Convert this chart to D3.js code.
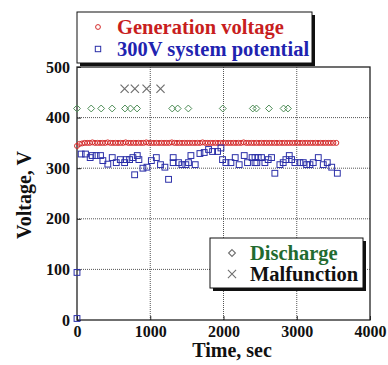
<!DOCTYPE html>
<html>
<head>
<meta charset="utf-8">
<script src="https://cdn.jsdelivr.net/npm/d3@7"></script>
<style>
  body { margin: 0; background: #fff; }
  text { font-family: "Liberation Serif", "Times New Roman", serif; font-weight: bold; }
</style>
</head>
<body>
<div id="chart"></div>
<script>
// generation voltage (red circles)
const genTime = [0, 35, 70, 105, 140, 175, 210, 245, 280, 315, 350, 385, 420, 455, 490, 525, 560, 595, 630, 665,
  700, 735, 770, 805, 840, 875, 910, 945, 980, 1015, 1050, 1085, 1120, 1155, 1190, 1225, 1260, 1295, 1330, 1365,
  1400, 1435, 1470, 1505, 1540, 1575, 1610, 1645, 1680, 1715, 1750, 1785, 1820, 1855, 1890, 1925, 1960, 1995, 2030, 2065,
  2100, 2135, 2170, 2205, 2240, 2275, 2310, 2345, 2380, 2415, 2450, 2485, 2520, 2555, 2590, 2625, 2660, 2695, 2730, 2765,
  2800, 2835, 2870, 2905, 2940, 2975, 3010, 3045, 3080, 3115, 3150, 3185, 3220, 3255, 3290, 3325, 3360, 3395, 3430, 3465,
  3500, 3540];
const genVolt = [344, 348, 349, 350, 350, 350, 351, 350, 350, 350, 350, 350, 351, 350, 350, 350, 350, 350, 350, 351,
  350, 350, 350, 350, 350, 350, 350, 351, 350, 350, 350, 350, 350, 350, 350, 350, 350, 351, 350, 350,
  350, 350, 350, 350, 350, 350, 350, 350, 350, 351, 350, 350, 350, 350, 350, 350, 350, 350, 350, 350,
  350, 350, 350, 350, 350, 351, 350, 350, 350, 350, 350, 350, 350, 350, 350, 350, 350, 350, 350, 350,
  350, 350, 350, 350, 350, 350, 350, 350, 350, 350, 350, 350, 350, 350, 350, 350, 350, 350, 350, 350,
  350, 350];

// 300V system potential (blue squares)
const sysTime = [0, 0, 57, 116, 180, 208, 262, 321, 353, 421, 481, 536, 591, 650, 673, 718, 763, 787, 823, 845,
  900, 955, 1015, 1083, 1140, 1200, 1250, 1313, 1313, 1386, 1432, 1486, 1522, 1555, 1614, 1678, 1737, 1796, 1851, 1919,
  1965, 1987, 2033, 2101, 2160, 2214, 2283, 2328, 2390, 2430, 2430, 2455, 2474, 2519, 2565, 2610, 2656, 2701, 2770, 2815,
  2852, 2898, 2930, 2975, 3043, 3089, 3135, 3180, 3225, 3294, 3362, 3417, 3477, 3554];
const sysVolt = [94, 3, 328, 328, 321, 325, 325, 325, 315, 308, 321, 311, 317, 311, 317, 317, 321, 287, 325, 317,
  300, 302, 315, 321, 307, 302, 278, 321, 311, 311, 307, 307, 311, 325, 307, 329, 331, 337, 333, 333,
  340, 317, 311, 311, 321, 307, 325, 311, 321, 321, 311, 311, 321, 321, 311, 317, 321, 290, 307, 311,
  317, 325, 317, 311, 311, 311, 307, 307, 311, 321, 307, 311, 302, 290];

// discharge events (green diamonds)
const dischargeTime = [0, 194, 330, 480, 655, 730, 820, 1300, 1375, 1520, 1990, 2400, 2450, 2620, 2820, 2880];
const dischargeVolt = [418, 418, 418, 418, 418, 418, 418, 418, 418, 418, 418, 418, 418, 418, 418, 418];

// malfunction events (grey crosses)
const malTime = [650, 790, 950, 1140];
const malVolt = [457, 457, 457, 457];

const xTicks = [0, 1000, 2000, 3000, 4000];
const yTicks = [0, 100, 200, 300, 400, 500];

const W = 388, H = 365;
const margin = {top: 67, right: 18, bottom: 45, left: 77};
const iw = W - margin.left - margin.right, ih = H - margin.top - margin.bottom;

const svg = d3.select('#chart').append('svg')
  .attr('width', W).attr('height', H);

const g = svg.append('g').attr('transform', `translate(${margin.left},${margin.top})`);

const x = d3.scaleLinear().domain([0, 4000]).range([0, iw]);
const y = d3.scaleLinear().domain([0, 500]).range([ih, 0]);

// grid
g.append('g').selectAll('line').data(xTicks.slice(1, -1)).enter().append('line')
  .attr('x1', d => x(d)).attr('x2', d => x(d)).attr('y1', 0).attr('y2', ih)
  .attr('stroke', '#555').attr('stroke-width', 1).attr('stroke-dasharray', '1,1');
g.append('g').selectAll('line').data(yTicks.slice(1, -1)).enter().append('line')
  .attr('y1', d => y(d)).attr('y2', d => y(d)).attr('x1', 0).attr('x2', iw)
  .attr('stroke', '#555').attr('stroke-width', 1).attr('stroke-dasharray', '1,1');

// axes
const xAxis = g.append('g').attr('transform', `translate(0,${ih})`)
  .call(d3.axisBottom(x).tickValues(xTicks).tickSize(-4).tickPadding(6).tickFormat(d3.format('d')));
const yAxis = g.append('g')
  .call(d3.axisLeft(y).tickValues(yTicks).tickSize(-4).tickPadding(7));
[xAxis, yAxis].forEach(a => {
  a.select('.domain').remove();
  a.selectAll('line').attr('stroke', '#222');
  a.selectAll('text').attr('fill', '#111').style('font-size', '16px')
    .style('font-family', '"Liberation Serif", serif').style('font-weight', 'bold');
});

g.append('rect').attr('width', iw).attr('height', ih)
  .attr('fill', 'none').attr('stroke', '#222').attr('stroke-width', 1.3);

// data marks
const red = '#d42a2a', blue = '#2b2fa8', green = '#4c8c55', grey = '#6f6f6f';

g.append('g').selectAll('circle').data(genTime).enter().append('circle')
  .attr('cx', (d, i) => x(d)).attr('cy', (d, i) => y(genVolt[i]))
  .attr('r', 2.5).attr('fill', 'none').attr('stroke', red).attr('stroke-width', 1);

g.append('g').selectAll('rect').data(sysTime).enter().append('rect')
  .attr('x', (d, i) => x(d) - 2.9).attr('y', (d, i) => y(sysVolt[i]) - 2.9)
  .attr('width', 5.8).attr('height', 5.8)
  .attr('fill', 'none').attr('stroke', blue).attr('stroke-width', 1);

const diamond = d3.symbol().type(d3.symbolDiamond2).size(30);
g.append('g').selectAll('path').data(dischargeTime).enter().append('path')
  .attr('transform', (d, i) => `translate(${x(d)},${y(dischargeVolt[i])})`)
  .attr('d', diamond).attr('fill', 'none').attr('stroke', green).attr('stroke-width', 1);

const cross = d3.symbol().type(d3.symbolTimes).size(45);
g.append('g').selectAll('path').data(malTime).enter().append('path')
  .attr('transform', (d, i) => `translate(${x(d)},${y(malVolt[i])})`)
  .attr('d', cross).attr('fill', 'none').attr('stroke', grey).attr('stroke-width', 1.2);

// axis titles
svg.append('text').attr('x', 232).attr('y', 357).attr('text-anchor', 'middle')
  .style('font-size', '20px').attr('fill', '#111').text('Time, sec');
svg.append('text').attr('transform', 'translate(31,195) rotate(-90)').attr('text-anchor', 'middle')
  .style('font-size', '20px').attr('fill', '#111').text('Voltage, V');

// legends
function legend(x0, y0, w, h, items) {
  const lg = svg.append('g').attr('transform', `translate(${x0},${y0})`);
  lg.append('rect').attr('x', 3).attr('y', 3).attr('width', w).attr('height', h).attr('fill', '#111');
  lg.append('rect').attr('width', w).attr('height', h).attr('fill', '#fff')
    .attr('stroke', '#111').attr('stroke-width', 1);
  items.forEach(it => {
    const cy = it.y;
    if (it.shape === 'circle') {
      lg.append('circle').attr('cx', it.mx).attr('cy', cy).attr('r', 2.4)
        .attr('fill', 'none').attr('stroke', it.mc);
    } else if (it.shape === 'square') {
      lg.append('rect').attr('x', it.mx - 2.7).attr('y', cy - 2.7).attr('width', 5.4).attr('height', 5.4)
        .attr('fill', 'none').attr('stroke', it.mc);
    } else {
      lg.append('path').attr('transform', `translate(${it.mx},${cy})`)
        .attr('d', it.shape === 'diamond' ? diamond : cross)
        .attr('fill', 'none').attr('stroke', it.mc).attr('stroke-width', 1.1);
    }
    lg.append('text').attr('x', it.tx).attr('y', cy + 7)
      .style('font-size', '20.5px').attr('fill', it.tc).text(it.label);
  });
}

legend(77, 12, 235, 51, [
  {shape: 'circle', mx: 21, mc: red, tx: 40, y: 15, tc: '#c81e1e', label: 'Generation voltage'},
  {shape: 'square', mx: 21, mc: blue, tx: 40, y: 37, tc: '#1f23b0', label: '300V system potential'}
]);
legend(210, 238, 153, 50, [
  {shape: 'diamond', mx: 22, mc: grey, tx: 40, y: 15, tc: '#226b30', label: 'Discharge'},
  {shape: 'cross', mx: 22, mc: grey, tx: 40, y: 36, tc: '#111', label: 'Malfunction'}
]);
</script>
</body>
</html>
